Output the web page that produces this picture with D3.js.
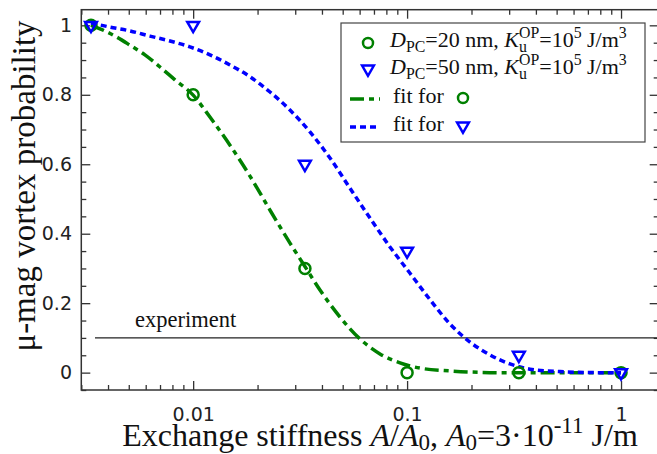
<!DOCTYPE html>
<html lang="en">
<head>
<meta charset="utf-8">
<script src="https://d3js.org/d3.v7.min.js"></script>
<style>
  body { margin: 0; background: #fff; }
  .serif { font-family: "Liberation Serif", "Times New Roman", serif; }
  .tick text { font-family: "DejaVu Sans", sans-serif; font-size: 19px; fill: #222; }
  .tick line { stroke: #333; stroke-width: 1.3px; }
</style>
</head>
<body>
<svg id="chart" width="657" height="454"></svg>
<script>
// data
const xPts = [0.00333, 0.01, 0.0333, 0.1, 0.333, 1];
const p20 = [1.0, 0.80, 0.30, 0.0, 0.0, 0.0];
const p50 = [1.0, 1.0, 0.60, 0.35, 0.05, 0.0];

// fit curves
const fit20X = [0.00333, 0.00367, 0.00431, 0.00506, 0.00595, 0.0070, 0.00822, 0.01, 0.01198, 0.01486, 0.01843, 0.02286, 0.02835, 0.03296, 0.03916, 0.04857, 0.06022, 0.07468, 0.09265, 0.1149, 0.1587, 0.2718, 0.5, 1];
const fit20Y = [1.0, 0.99, 0.969, 0.943, 0.915, 0.880, 0.843, 0.799, 0.736, 0.655, 0.566, 0.468, 0.373, 0.310, 0.238, 0.160, 0.097, 0.054, 0.028, 0.013, 0.005, 0.0, 0.0, 0.0];

const fit50X = [0.00333, 0.00408, 0.00506, 0.00628, 0.00779, 0.00966, 0.01198, 0.01486, 0.01843, 0.02286, 0.02835, 0.03516, 0.0436, 0.05408, 0.06708, 0.08318, 0.1032, 0.128, 0.1587, 0.1968, 0.2441, 0.3027, 0.3755, 0.5186, 0.7977, 1];
const fit50Y = [1.007, 0.995, 0.984, 0.969, 0.955, 0.938, 0.915, 0.886, 0.852, 0.808, 0.756, 0.693, 0.618, 0.531, 0.445, 0.362, 0.286, 0.210, 0.140, 0.088, 0.051, 0.025, 0.010, 0.003, 0.0, 0.0];

const xMajor = [0.01, 0.1, 1];
const xMajorLabels = ["0.01", "0.1", "1"];
const xMinor = [0.003, 0.004, 0.005, 0.006, 0.007, 0.008, 0.009,
                0.02, 0.03, 0.04, 0.05, 0.06, 0.07, 0.08, 0.09,
                0.2, 0.3, 0.4, 0.5, 0.6, 0.7, 0.8, 0.9];
const yMajor = [0, 0.2, 0.4, 0.6, 0.8, 1];
const yMajorLabels = ["0", "0.2", "0.4", "0.6", "0.8", "1"];
const yMinor = [-0.05, 0.05, 0.1, 0.15, 0.25, 0.3, 0.35, 0.45, 0.5, 0.55, 0.65, 0.7, 0.75, 0.85, 0.9, 0.95];
const experimentLevel = 0.1;

const green = "#008000", blue = "#0000ff";

let svg = d3.select("#chart");
let mLeft = 81.3, mRight = 658.7, mTop = 9.7, mBottom = 390;

let x = d3.scaleLog().domain([0.003, 1.5]).range([mLeft, mRight]);
let y = d3.scaleLinear().domain([-0.05, 1.045]).range([mBottom, mTop]);

// axes, ticks pointing inward on all four sides
function axis(gen, tr, vals, size, labels, pad) {
  let g = svg.append("g").attr("transform", tr)
    .call(gen.tickValues(vals).tickSize(size).tickPadding(pad || 3)
      .tickFormat(labels ? ((d, i) => labels[i]) : () => ""));
  g.select(".domain").remove();
  if (!labels) g.selectAll("text").remove();
  return g;
}
axis(d3.axisBottom(x), `translate(0,${mBottom})`, xMajor, -9, xMajorLabels, 18);
axis(d3.axisBottom(x), `translate(0,${mBottom})`, xMinor, -5);
axis(d3.axisTop(x), `translate(0,${mTop})`, xMajor, -9);
axis(d3.axisTop(x), `translate(0,${mTop})`, xMinor, -5);
axis(d3.axisLeft(y), `translate(${mLeft},0)`, yMajor, -9, yMajorLabels, 9.3);
axis(d3.axisLeft(y), `translate(${mLeft},0)`, yMinor, -5);
axis(d3.axisRight(y), `translate(${mRight},0)`, yMajor, -9);
axis(d3.axisRight(y), `translate(${mRight},0)`, yMinor, -5);

svg.append("rect")
  .attr("x", mLeft).attr("y", mTop)
  .attr("width", mRight - mLeft).attr("height", mBottom - mTop)
  .style("fill", "none").style("stroke", "#333").style("stroke-width", 1.5);

// experiment line
svg.append("line")
  .attr("x1", 95).attr("x2", mRight)
  .attr("y1", y(experimentLevel)).attr("y2", y(experimentLevel))
  .style("stroke", "#222").style("stroke-width", 1.2);
svg.append("text").attr("class", "serif")
  .attr("x", 135).attr("y", y(experimentLevel) - 11)
  .style("font-size", "22.5px").style("fill", "#111")
  .text("experiment");

// fit curves
let line = d3.line()
  .x(d => x(d[0])).y(d => y(d[1]))
  .curve(d3.curveMonotoneX);

svg.append("path")
  .datum(fit20X.map((v, i) => [v, fit20Y[i]]))
  .attr("d", line)
  .style("fill", "none").style("stroke", green)
  .style("stroke-width", 3.5).style("stroke-dasharray", "14,5,5,5");

svg.append("path")
  .datum(fit50X.map((v, i) => [v, fit50Y[i]]))
  .attr("d", line)
  .style("fill", "none").style("stroke", blue)
  .style("stroke-width", 3.5).style("stroke-dasharray", "6,4");

// markers
let tri = d3.symbol().type(d3.symbolTriangle).size(60);

svg.append("g").selectAll("circle")
  .data(xPts.map((v, i) => [v, p20[i]]))
  .join("circle")
  .attr("cx", d => x(d[0])).attr("cy", d => y(d[1]))
  .attr("r", 5.5)
  .style("fill", "none").style("stroke", green).style("stroke-width", 2.5);

svg.append("g").selectAll("path")
  .data(xPts.map((v, i) => [v, p50[i]]))
  .join("path")
  .attr("d", tri)
  .attr("transform", d => `translate(${x(d[0])},${y(d[1])}) rotate(180)`)
  .style("fill", "none").style("stroke", blue).style("stroke-width", 2.5);

// rich text helper: parts = [text, style] where style in n, i, sub, sup, stk
function rich(sel, parts, size, subDrop) {
  let shift = 0;
  let lastW = 0;
  parts.forEach(p => {
    let t = sel.append("tspan").text(p[0]);
    let s = p[1];
    let target = 0;
    if (s === "sub") { target = size * (subDrop || 0.22); t.style("font-size", size * 0.72 + "px"); }
    if (s === "sup" || s === "stk") { target = -size * 0.4; t.style("font-size", size * 0.72 + "px"); }
    if (s === "i") t.style("font-style", "italic");
    if (target - shift !== 0) t.attr("dy", target - shift);
    if (s === "stk") t.attr("dx", -lastW);
    shift = target;
    lastW = t.node().getComputedTextLength();
  });
}

// legend
let lg = svg.append("g");
lg.append("rect")
  .attr("x", 341).attr("y", 23).attr("width", 304).attr("height", 119)
  .style("fill", "#fff").style("stroke", "#444").style("stroke-width", 1.2);

let rowBase = [47, 74, 103, 131];
let fs = 22;

lg.append("circle").attr("cx", 368).attr("cy", rowBase[0] - 4).attr("r", 5)
  .style("fill", "none").style("stroke", green).style("stroke-width", 2.5);
lg.append("path").attr("d", tri)
  .attr("transform", `translate(368,${rowBase[1] - 5}) rotate(180)`)
  .style("fill", "none").style("stroke", blue).style("stroke-width", 2.5);
lg.append("line").attr("x1", 350).attr("x2", 380)
  .attr("y1", rowBase[2] - 4).attr("y2", rowBase[2] - 4)
  .style("stroke", green).style("stroke-width", 3.5).style("stroke-dasharray", "14,5,5,5");
lg.append("line").attr("x1", 350).attr("x2", 380)
  .attr("y1", rowBase[3] - 4).attr("y2", rowBase[3] - 4)
  .style("stroke", blue).style("stroke-width", 3.5).style("stroke-dasharray", "6,4");

["20", "50"].forEach((d, k) => {
  let t = lg.append("text").attr("class", "serif")
    .attr("x", 390).attr("y", rowBase[k]).style("font-size", fs + "px").style("fill", "#111");
  rich(t, [["D", "i"], ["PC", "sub"], ["=" + d + " nm, ", "n"], ["K", "i"], ["u", "sub"], ["OP", "stk"],
           ["=10", "n"], ["5", "sup"], [" J/m", "n"], ["3", "sup"]], fs);
});
lg.append("text").attr("class", "serif").attr("x", 393).attr("y", rowBase[2])
  .style("font-size", fs + "px").style("fill", "#111").text("fit for");
lg.append("text").attr("class", "serif").attr("x", 393).attr("y", rowBase[3])
  .style("font-size", fs + "px").style("fill", "#111").text("fit for");
lg.append("circle").attr("cx", 463).attr("cy", rowBase[2] - 5).attr("r", 5)
  .style("fill", "none").style("stroke", green).style("stroke-width", 2.5);
lg.append("path").attr("d", tri)
  .attr("transform", `translate(463,${rowBase[3] - 5}) rotate(180)`)
  .style("fill", "none").style("stroke", blue).style("stroke-width", 2.5);

// axis titles
let xt = svg.append("text").attr("class", "serif")
  .attr("x", 380).attr("y", 446).attr("text-anchor", "middle")
  .style("font-size", "32px").style("fill", "#111");
rich(xt, [["Exchange stiffness ", "n"], ["A", "i"], ["/", "n"], ["A", "i"], ["0", "sub"], [", ", "n"],
          ["A", "i"], ["0", "sub"], ["=3·10", "n"], ["-11", "sup"], [" J/m", "n"]], 32, 0.12);

svg.append("text").attr("class", "serif")
  .attr("transform", "translate(35,186) rotate(-90)")
  .attr("text-anchor", "middle")
  .style("font-size", "33px").style("fill", "#111")
  .text("μ-mag vortex probability");
</script>
</body>
</html>
